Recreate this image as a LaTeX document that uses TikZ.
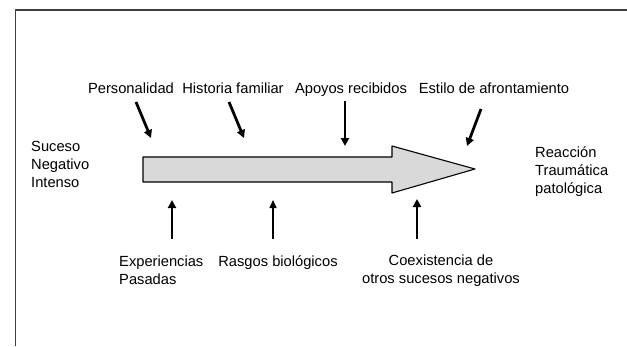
\documentclass[tikz,border=0pt]{standalone}
\usepackage{fontspec}
\setmainfont{Liberation Sans}
\usetikzlibrary{arrows.meta}
\begin{document}
\begin{tikzpicture}[x=1pt,y=-1pt,font=\fontsize{14.7}{18}\selectfont,line join=round,
    factor/.style={inner sep=0pt,anchor=base},
    extremo/.style={inner sep=0pt,align=left,anchor=west},
    flechita/.style={line width=2.8pt,-{Triangle[width=8pt,length=8pt]}},
    fina/.style={line width=1.5pt,-{Triangle[width=7pt,length=8pt]}}]
    \useasboundingbox (0,0) rectangle (627,346);
    \draw[line width=1.3pt,black!75] (15.5,346) -- (15.5,10) -- (627,10);
    % flecha principal
    \draw[fill=black!15,line width=1.1pt] (143,157) -- (392,157) -- (392,146) -- (475,169)
        -- (392,193) -- (392,182) -- (143,182) -- cycle;
    \node[extremo] (suceso) at (31,164) {Suceso\\Negativo\\Intenso};
    \node[extremo] (reaccion) at (535,172) {Reacción\\Traumática\\patológica};
    % factores de arriba
    \node[factor] (pers) at (131,93) {Personalidad};
    \node[factor] (hist) at (233,93) {Historia familiar};
    \node[factor] (apoy) at (351,93) {Apoyos recibidos};
    \node[factor] (esti) at (494,93) {Estilo de afrontamiento};
    % factores de abajo
    \node[extremo] (expe) at (119,270) {Experiencias\\Pasadas};
    \node[factor] (rasg) at (278,266) {Rasgos biológicos};
    \node[inner sep=0pt,align=center] (coex) at (441,271) {Coexistencia de\\otros sucesos negativos};
    \coordinate (pers-a) at (136,102); \coordinate (pers-b) at (151,138);
    \coordinate (hist-a) at (229,102); \coordinate (hist-b) at (244,138);
    \coordinate (apoy-a) at (345,101); \coordinate (apoy-b) at (345,146);
    \coordinate (esti-a) at (481,109); \coordinate (esti-b) at (467,146);
    \coordinate (expe-a) at (172,239); \coordinate (expe-b) at (172,200);
    \coordinate (rasg-a) at (273,239); \coordinate (rasg-b) at (273,200);
    \coordinate (coex-a) at (417,239); \coordinate (coex-b) at (417,199);
    \draw[flechita] (pers-a) -- (pers-b);
    \draw[flechita] (hist-a) -- (hist-b);
    \draw[flechita,line width=2.3pt] (apoy-a) -- (apoy-b);
    \draw[flechita] (esti-a) -- (esti-b);
    \draw[flechita] (expe-a) -- (expe-b);
    \draw[fina] (rasg-a) -- (rasg-b);
    \draw[flechita] (coex-a) -- (coex-b);
\end{tikzpicture}
\end{document}
